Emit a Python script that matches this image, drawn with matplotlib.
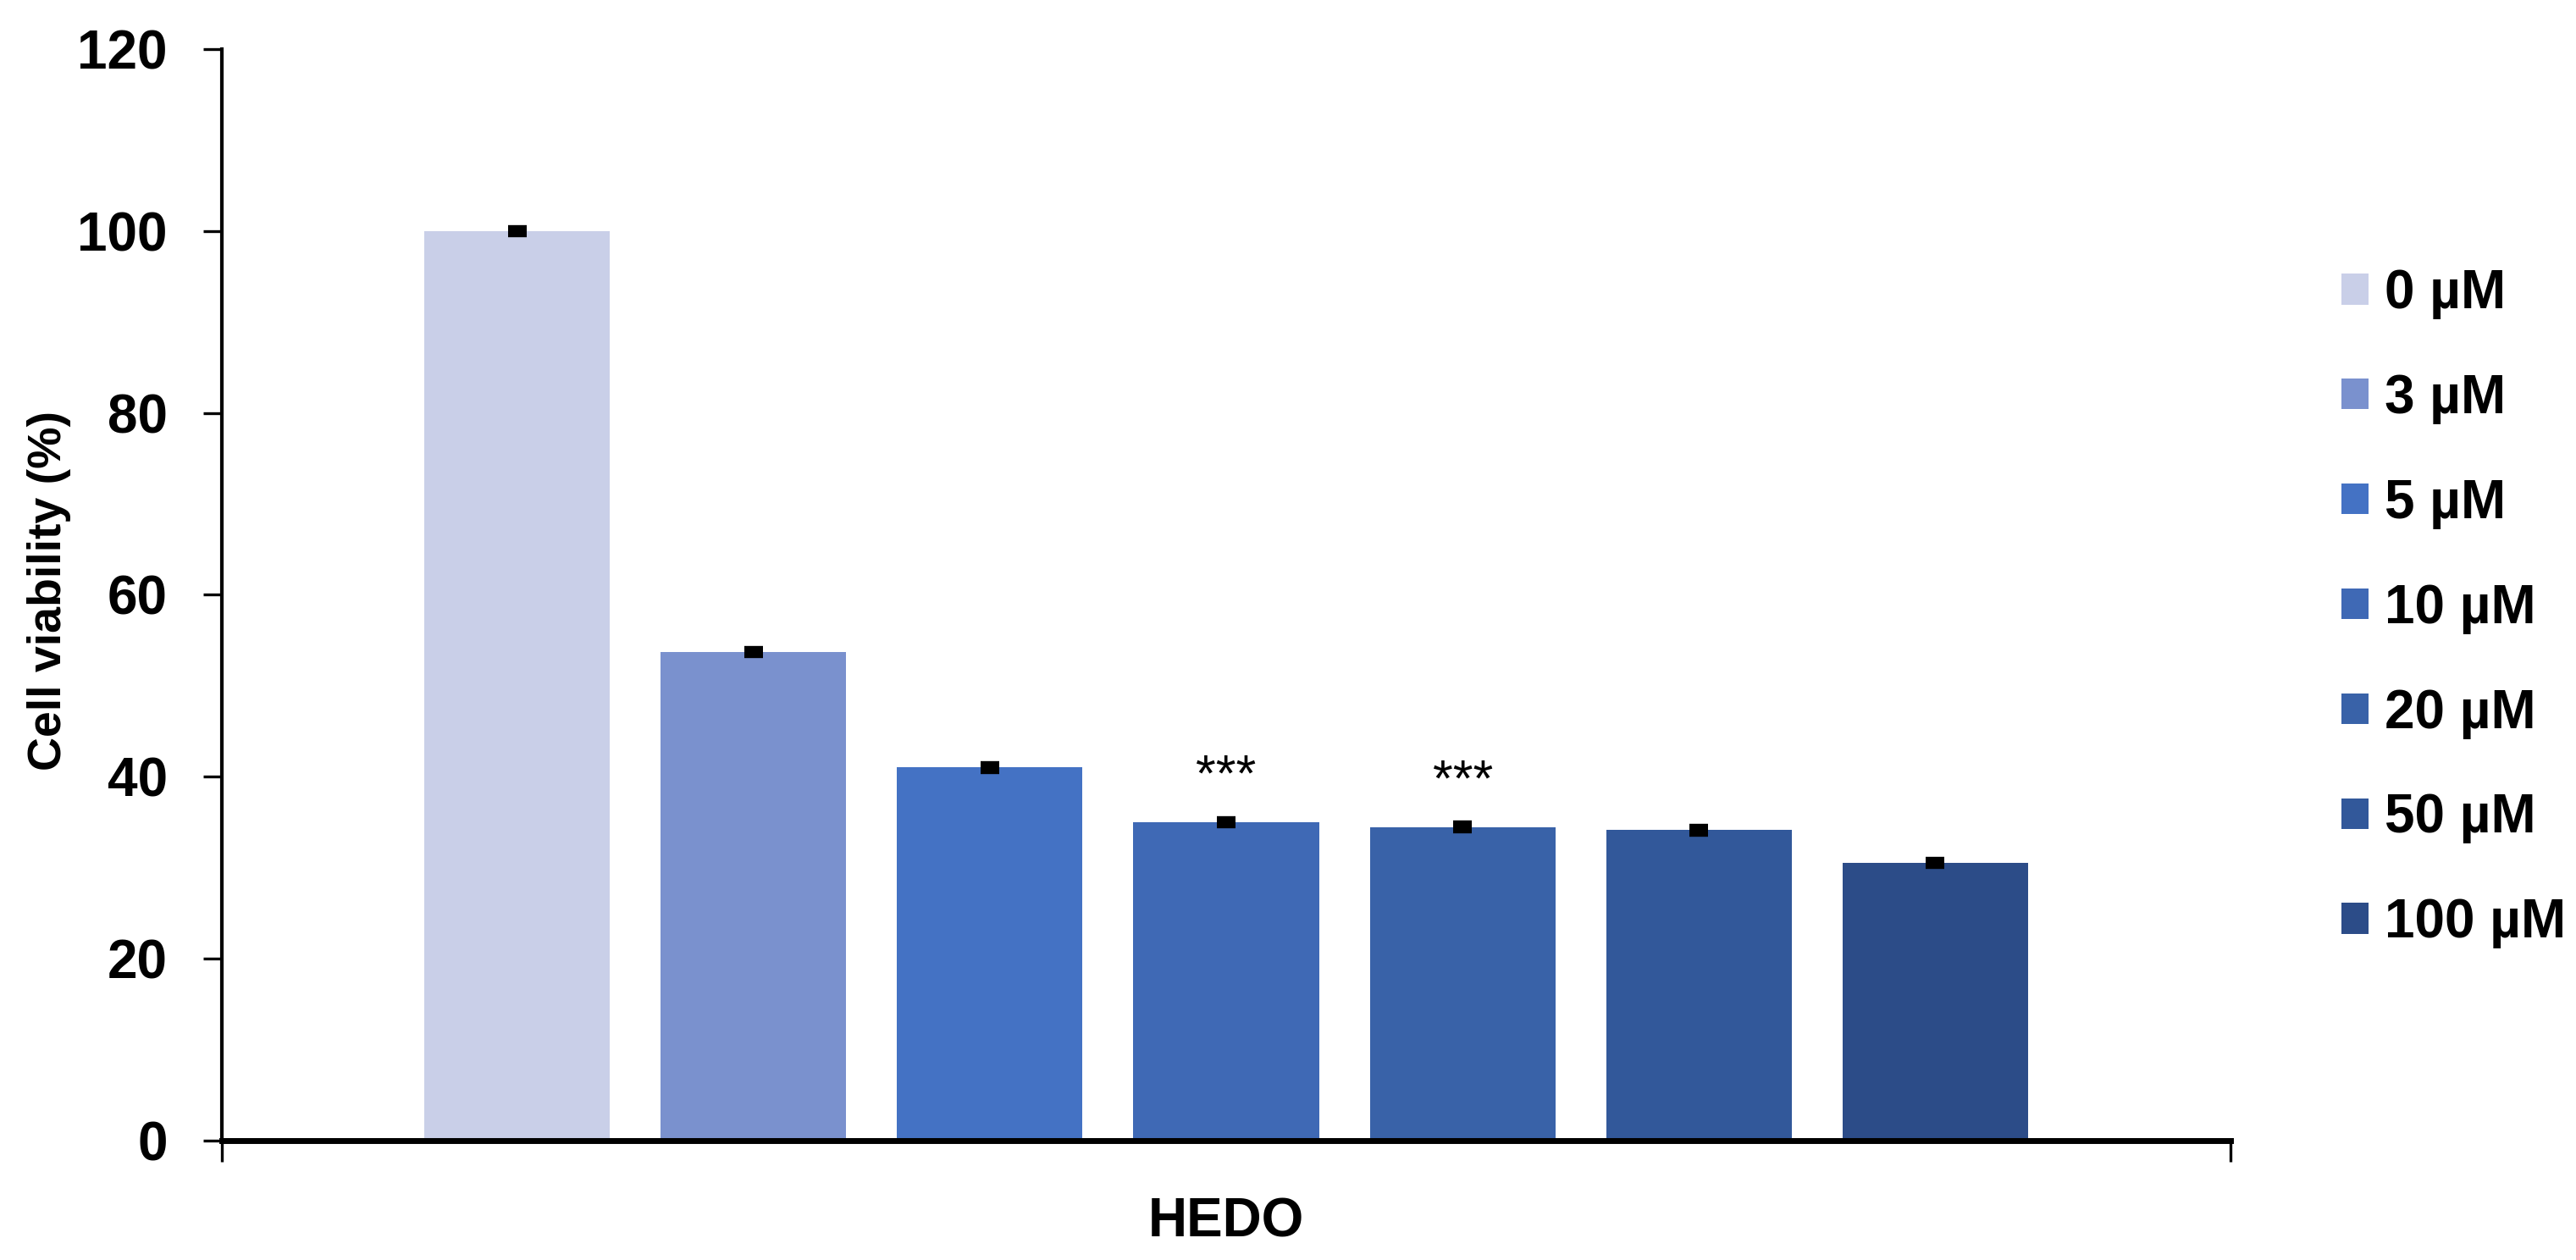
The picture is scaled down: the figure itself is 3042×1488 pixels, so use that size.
import matplotlib
matplotlib.use('Agg')
import matplotlib.pyplot as plt
import numpy as np

categories = ['0 µM', '3 µM', '5 µM', '10 µM', '20 µM', '50 µM', '100 µM']
viability = [100.0, 53.7, 41.0, 35.0, 34.45, 34.1, 30.5]
errors = [0.3, 0.3, 0.3, 0.3, 0.3, 0.3, 0.3]
significance = ['', '', '', '***', '***', '', '']
colors = ['#C9CFE8', '#7A91CE', '#4472C4', '#3F69B5', '#3962A8', '#32589A', '#2C4C88']
group_label = 'HEDO'
yticks = [0, 20, 40, 60, 80, 100, 120]

plt.rcParams['font.family'] = ['Liberation Sans', 'DejaVu Sans']

fig = plt.figure(figsize=(15.21, 7.44), dpi=200)
ax = fig.add_axes([0.086, 0.095, 0.780, 0.866])

x = np.arange(len(categories))
handles = []
for xi, v, c, lab in zip(x, viability, colors, categories):
    b = ax.bar(xi, v, width=0.785, color=c, label=lab, zorder=2)
    handles.append(b)
ax.errorbar(x, viability, yerr=errors, fmt='none', ecolor='black',
            elinewidth=2, capsize=4, capthick=3, zorder=3)

for xi, v, e, s in zip(x, viability, errors, significance):
    if s:
        ax.annotate(s, (xi, v + e), xytext=(0, 18), textcoords='offset points',
                    ha='center', va='center', fontsize=22)

ax.set_xlim(-1.25, 7.25)
ax.set_ylim(0, 120)
ax.set_yticks(yticks)
ax.set_yticklabels([str(t) for t in yticks], fontsize=23, fontweight='bold')
ax.set_xticks([-1.25, 7.25])
ax.set_xticklabels(['', ''])
ax.tick_params(axis='y', direction='out', length=8, width=1.2, pad=15)
ax.tick_params(axis='x', direction='out', length=9, width=1.2)

for sp in ['top', 'right']:
    ax.spines[sp].set_visible(False)
ax.spines['left'].set_linewidth(1.5)
ax.spines['bottom'].set_linewidth(2.5)

ax.annotate(group_label, xy=(0.5, 0), xycoords='axes fraction', xytext=(0, -35),
            textcoords='offset points', ha='center', va='center',
            fontsize=23, fontweight='bold')

fig.text(0.019, 0.531, 'Cell viability (%)', rotation=90, ha='center', va='center',
         fontsize=20, fontweight='bold')

fig.legend(handles=handles, labels=categories, loc='center left',
           bbox_to_anchor=(0.89, 0.517), frameon=False,
           prop={'size': 23, 'weight': 'bold'}, handlelength=0.5,
           handleheight=0.5, handletextpad=0.3, labelspacing=1.0)

fig.savefig('out.png', dpi=200)
